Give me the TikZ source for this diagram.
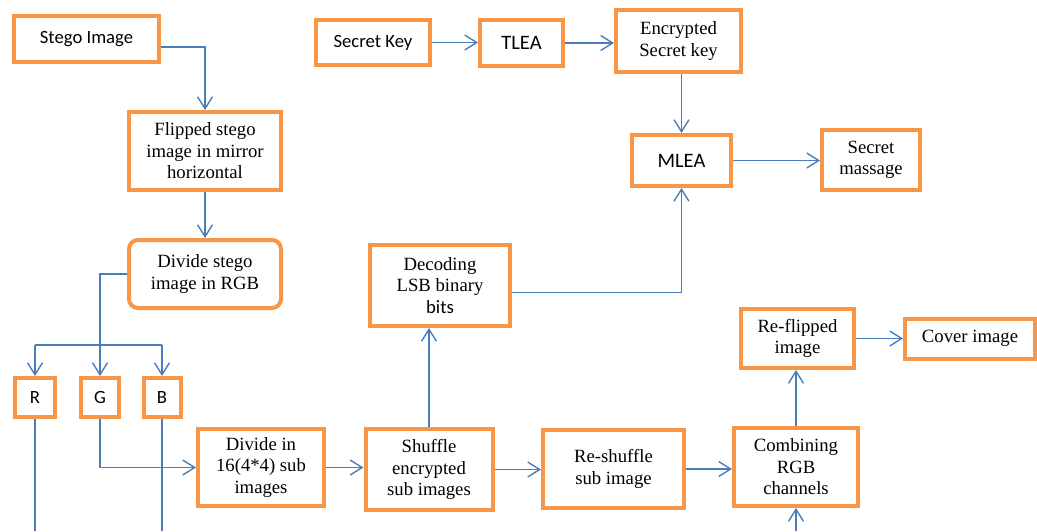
\documentclass[tikz,border=0pt]{standalone}
\usepackage{fontspec}
\setmainfont{Liberation Serif}
\newfontfamily\calibfont{Carlito}
\usetikzlibrary{arrows.meta}
\definecolor{boxorange}{HTML}{F79646}
\definecolor{lineblue}{HTML}{4A7EBB}

\begin{document}
\begin{tikzpicture}[x=1pt,y=-1pt,
	box/.style={draw=boxorange, line width=4pt, inner sep=0pt, align=center,
		font=\fontsize{18.7}{21.5}\selectfont},
	plain/.style={draw=lineblue, line width=1.4pt},
	link/.style={plain, -{Straight Barb[length=12pt,width=15pt,line width=1.4pt]}}]

\useasboundingbox (0,0) rectangle (1037,531);

\node[box, minimum width=145pt, minimum height=46pt] (stego) at (86.5,39) {\calibfont Stego Image};
\node[box, minimum width=152pt, minimum height=78pt] (flip) at (205,151) {Flipped stego\\image in mirror\\horizontal};
\node[box, rounded corners=9pt, minimum width=152pt, minimum height=68pt] (divide) at (205,274) {Divide stego\\image in RGB};

\node[box, minimum width=40pt, minimum height=39pt] (r) at (35,397.5) {\calibfont R};
\node[box, minimum width=38pt, minimum height=39pt] (g) at (100,397.5) {\calibfont G};
\node[box, minimum width=37pt, minimum height=39pt] (b) at (162,397.5) {\calibfont B};

\node[box, minimum width=126pt, minimum height=77pt] (div16) at (261,467.5) {Divide in\\16(4*4) sub\\images};
\node[box, minimum width=127pt, minimum height=81pt] (shuffle) at (429,469.5) {Shuffle\\encrypted\\sub images};
\node[box, minimum width=141pt, minimum height=78pt] (reshuffle) at (613.5,469) {Re-shuffle\\sub image};
\node[box, minimum width=124pt, minimum height=78pt] (combine) at (796,467) {Combining\\RGB\\channels};
\node[box, minimum width=113pt, minimum height=59pt] (reflip) at (797.5,338.5) {Re-flipped\\image};
\node[box, minimum width=130pt, minimum height=40pt] (cover) at (970,338.5) {Cover image};

\node[box, minimum width=140pt, minimum height=81pt] (decoding) at (440,285.5) {Decoding\\LSB binary\\{\calibfont bits}};

\node[box, minimum width=114pt, minimum height=45pt] (seckey) at (373,42.5) {\calibfont Secret Key};
\node[box, minimum width=83pt, minimum height=46pt] (tlea) at (521.5,43) {\calibfont\fontsize{20.5}{24}\selectfont TLEA};
\node[box, minimum width=125pt, minimum height=62pt] (enc) at (678.5,41) {Encrypted\\Secret key};
\node[box, minimum width=99pt, minimum height=51pt] (mlea) at (681.5,160.5) {\calibfont\fontsize{20.5}{24}\selectfont MLEA};
\node[box, minimum width=98pt, minimum height=60pt] (massage) at (871,160) {Secret\\massage};

\coordinate (split) at (100,345);
\coordinate (bottom) at (0,531);

\draw[link] ([yshift=-8pt]stego.east) -| (flip.north);
\draw[link] (flip.south) -- (divide.north);
\draw[link] (divide.west) -| (g.north);
\draw[plain] (r.north |- split) -- (b.north |- split);
\foreach \c in {r,b}
{
	\draw[link] (\c.north |- split) -- (\c.north);
	\draw[plain] (\c.south) -- (\c.south |- bottom);
};
\draw[link] (g.south) |- (div16.west);
\draw[link] (combine.south |- bottom) -- (combine.south);
\draw[link] ([yshift=-7pt]decoding.east) -| (mlea.south);
\draw[link] (enc.south -| mlea.north) -- (mlea.north);

\foreach \a/\b in {seckey/tlea, tlea/enc, mlea/massage, div16/shuffle,
			shuffle/reshuffle, reshuffle/combine, reflip/cover}
{
	\draw[link] (\a.east) -- (\a.east -| \b.west);
};
\foreach \a/\b in {shuffle/decoding, combine/reflip}
{
	\draw[link] (\a.north) -- (\a.north |- \b.south);
};
\end{tikzpicture}
\end{document}
